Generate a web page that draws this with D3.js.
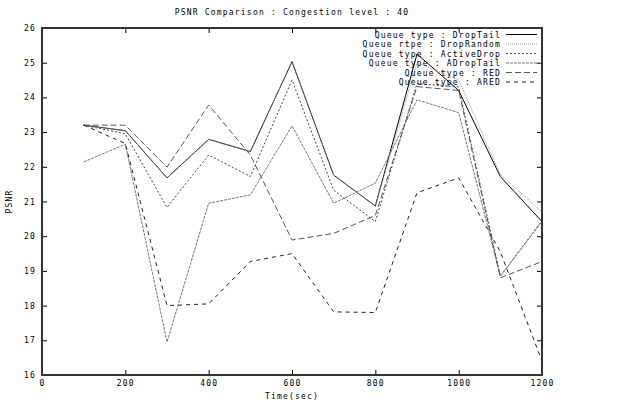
<!DOCTYPE html>
<html><head><meta charset="utf-8">
<script src="https://cdn.jsdelivr.net/npm/d3@7"></script>
<style>
html,body{margin:0;padding:0;background:#fff;}
svg text{font-family:"DejaVu Sans Mono","Liberation Mono",monospace;font-size:8px;letter-spacing:1.2px;fill:#000;}
</style></head>
<body>
<svg id="chart" width="618" height="403"></svg>
<script>
const times = [100,200,300,400,500,600,700,800,900,1000,1100,1200];
const seriesNames = ["Queue type : DropTail","Queue rtpe : DropRandom","Queue type : ActiveDrop","Queue type : ADropTail","Queue type : RED","Queue type : ARED"];
const dropTail   = [23.2,23.04,21.68,22.79,22.44,25.03,21.76,20.87,25.25,24.2,21.72,20.42];
const dropRandom = [23.2,23.04,21.68,22.79,22.44,25.03,21.76,20.87,25.0,24.5,21.78,20.7];
const activeDrop = [23.2,22.95,20.83,22.34,21.72,24.5,21.33,20.42,24.4,24.3,18.85,20.45];
const aDropTail  = [22.14,22.65,16.95,20.95,21.19,23.18,20.95,21.53,23.93,23.56,18.85,20.42];
const red        = [23.2,23.2,21.99,23.78,22.34,19.89,20.08,20.6,24.31,24.2,18.8,19.27];
const ared       = [23.2,22.67,18.0,18.05,19.27,19.5,17.82,17.8,21.25,21.68,19.55,16.4];
const xTicks = [0,200,400,600,800,1000,1200];
const yTicks = [16,17,18,19,20,21,22,23,24,25,26];
const title = "PSNR Comparison : Congestion level : 40";
const xLabel = "Time(sec)";
const yLabel = "PSNR";

const allSeries = [dropTail, dropRandom, activeDrop, aDropTail, red, ared];
const styles = [
  {stroke:"#000", dash:null},
  {stroke:"#999", dash:"1,1"},
  {stroke:"#444", dash:"2,2"},
  {stroke:"#777", dash:"3,1"},
  {stroke:"#555", dash:"6,3"},
  {stroke:"#222", dash:"4,4"}
];

const svg = d3.select("#chart");
const m = {left:42, right:76, top:28, bottom:28};
const W = 618, H = 403;
const x = d3.scaleLinear().domain([0,1200]).range([m.left, W-m.right]);
const y = d3.scaleLinear().domain([16,26]).range([H-m.bottom, m.top]);

const axB = svg.append("g").attr("transform",`translate(0,${H-m.bottom})`)
  .call(d3.axisBottom(x).tickValues(xTicks).tickSize(-5).tickPadding(5).tickFormat(d3.format("d")));
const axT = svg.append("g").attr("transform",`translate(0,${m.top})`)
  .call(d3.axisTop(x).tickValues(xTicks).tickSize(-5).tickFormat(""));
const axL = svg.append("g").attr("transform",`translate(${m.left},0)`)
  .call(d3.axisLeft(y).tickValues(yTicks).tickSize(-5).tickPadding(6).tickFormat(d3.format("d")));
const axR = svg.append("g").attr("transform",`translate(${W-m.right},0)`)
  .call(d3.axisRight(y).tickValues(yTicks).tickSize(-5).tickFormat(""));
[axB,axT,axL,axR].forEach(g=>{
  g.select(".domain").remove();
  g.selectAll("line").attr("stroke","#000").attr("stroke-width",1);
  g.selectAll("text").style("font-family","'DejaVu Sans Mono',monospace").style("font-size","8px").style("letter-spacing","1.2px");
});
svg.append("rect").attr("x",x(0)).attr("y",y(26)).attr("width",x(1200)-x(0)).attr("height",y(16)-y(26))
  .attr("fill","none").attr("stroke","#333").attr("stroke-width",1.2).attr("shape-rendering","crispEdges");

const line = d3.line().x((d,i)=>x(times[i])).y(d=>y(d));
allSeries.forEach((s,k)=>{
  svg.append("path").datum(s).attr("d",line).attr("fill","none")
    .attr("stroke",styles[k].stroke).attr("stroke-width",1)
    .attr("stroke-dasharray",styles[k].dash);
});

const lg = svg.append("g");
seriesNames.forEach((n,k)=>{
  const yy = 34.5 + k*9.5;
  lg.append("text").attr("x",501).attr("y",yy+3).attr("text-anchor","end").text(n);
  lg.append("line").attr("x1",506).attr("x2",537).attr("y1",yy).attr("y2",yy)
    .attr("stroke",styles[k].stroke).attr("stroke-width",1).attr("stroke-dasharray",styles[k].dash);
});

svg.append("text").attr("x",(x(0)+x(1200))/2).attr("y",15).attr("text-anchor","middle").text(title);
svg.append("text").attr("x",(x(0)+x(1200))/2).attr("y",399).attr("text-anchor","middle").text(xLabel);
svg.append("text").attr("transform",`translate(12,${(y(16)+y(26))/2}) rotate(-90)`).attr("text-anchor","middle").text(yLabel);
</script>
</body></html>
